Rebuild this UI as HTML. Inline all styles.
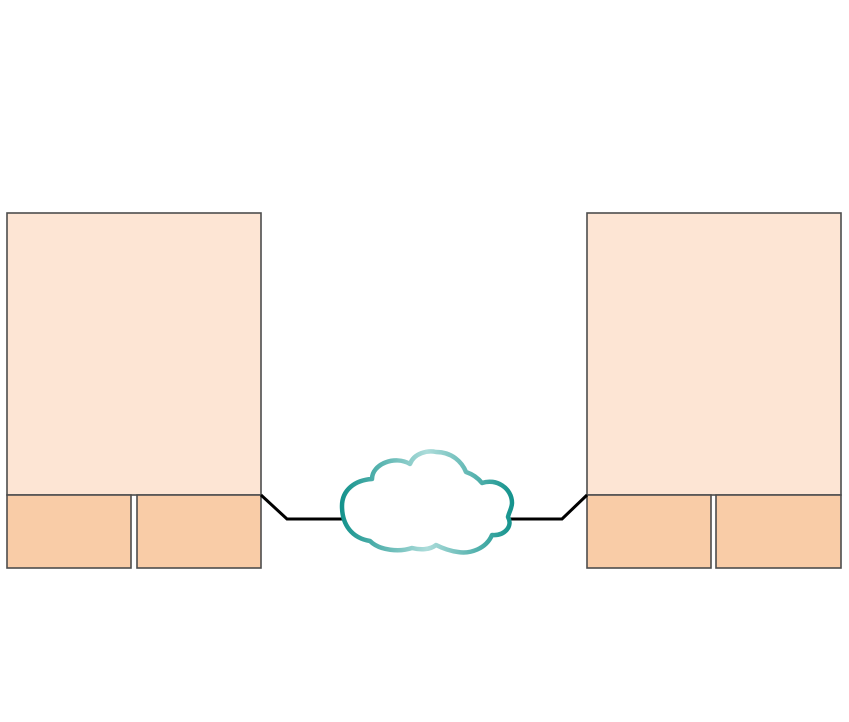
<!DOCTYPE html>
<html><head><meta charset="utf-8"><style>
html,body{margin:0;padding:0;background:#fff;}
svg{display:block;}
</style></head><body>
<svg width="849" height="722" viewBox="0 0 849 722" xmlns="http://www.w3.org/2000/svg">
<defs>
<linearGradient id="g" x1="0" y1="0" x2="1" y2="0">
<stop offset="0" stop-color="#15938d"/>
<stop offset="0.5" stop-color="#acdcda"/>
<stop offset="1" stop-color="#15938d"/>
</linearGradient>
</defs>
<g stroke="#4d4d4d" stroke-width="1.6">
<rect x="7" y="213" width="254" height="282" fill="#fde5d4"/>
<rect x="7" y="495" width="124" height="73" fill="#f9cca7"/>
<rect x="137" y="495" width="124" height="73" fill="#f9cca7"/>
<rect x="587" y="213" width="254" height="282" fill="#fde5d4"/>
<rect x="587" y="495" width="124" height="73" fill="#f9cca7"/>
<rect x="716" y="495" width="125" height="73" fill="#f9cca7"/>
</g>
<g fill="none" stroke="#000" stroke-width="3">
<polyline points="261,495 287,519 343,519"/>
<polyline points="510,519 562,519 587,495"/>
</g>
<path fill="#fff" stroke="url(#g)" stroke-width="4.5" stroke-linejoin="round"
d="M372,479 C372,464 395,455 410,464 C414,453 428,450 436,452 C452,452 462,462 466,472 C472,474 478,478 482,483 C496,478 512,488 512,503 C512,508 509,512 508,517 C513,526 505,536 492,535 C486,549 470,554 458,552 C450,551 442,548 436,545 C430,550 420,550 412,548 C400,552 380,551 370,541 C352,538 342,525 342,506 C342,490 355,480 372,479 Z"/>
</svg>
</body></html>
